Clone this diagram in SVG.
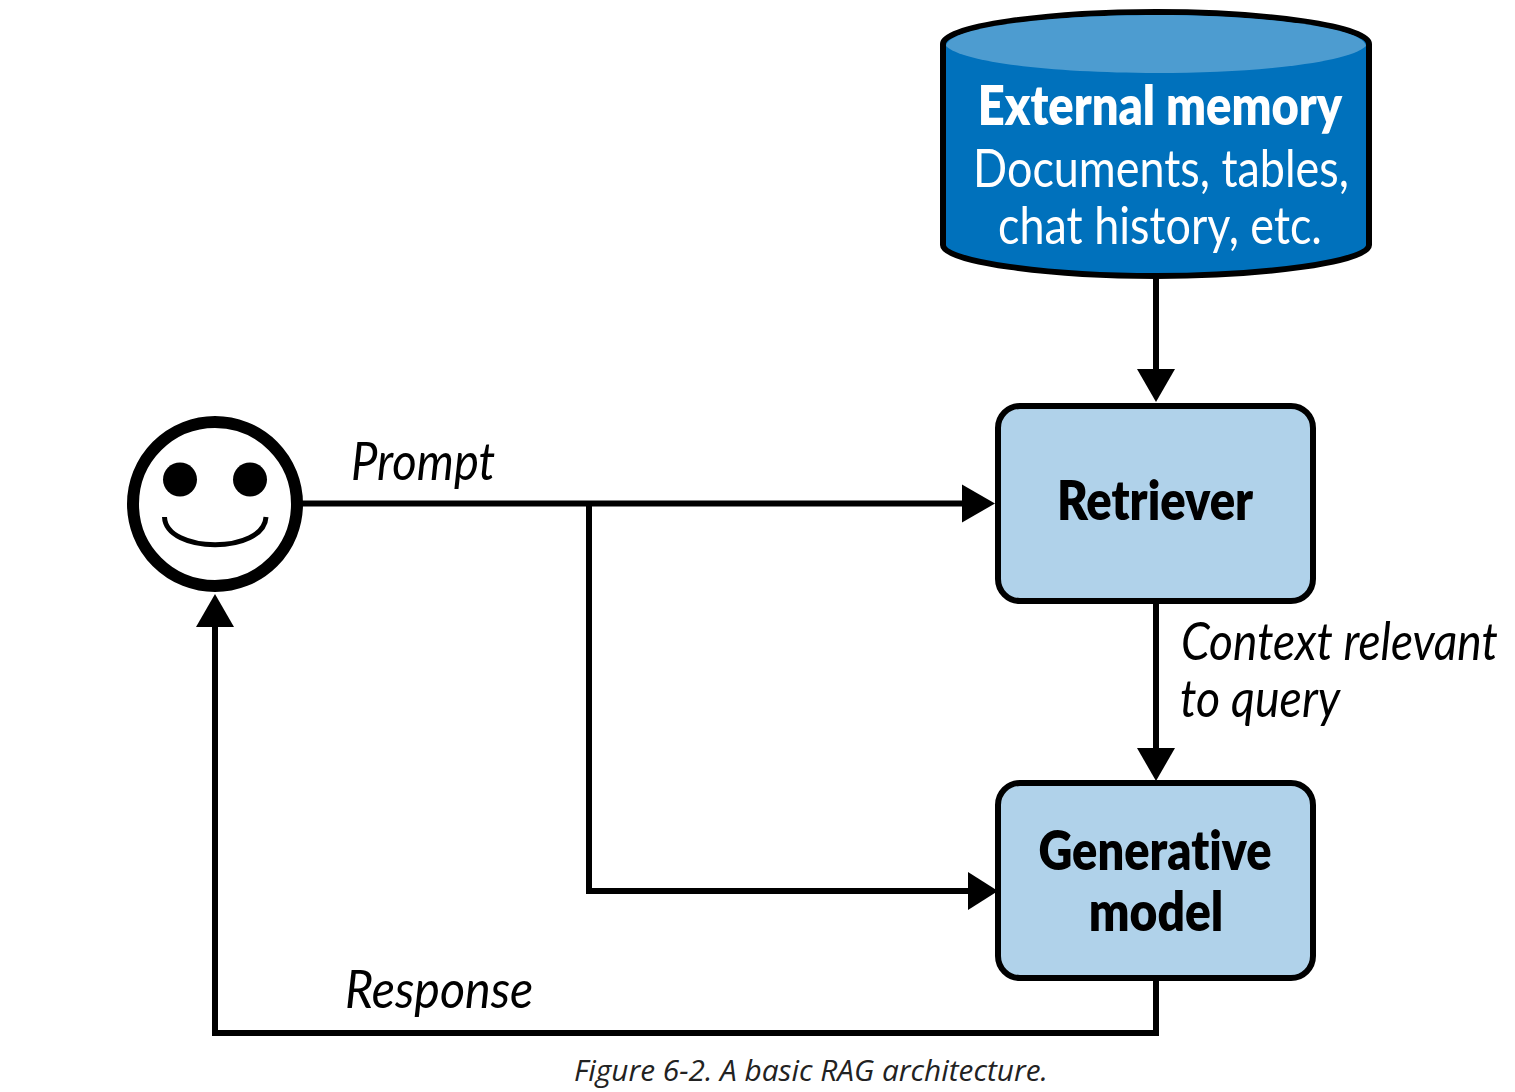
<svg xmlns="http://www.w3.org/2000/svg" width="1515" height="1092" viewBox="0 0 1515 1092">
<style>
.ln{fill:none;stroke:#000;stroke-width:6}
.box{fill:#b0d2ea;stroke:#000;stroke-width:6}
text{font-family:Lato,"Open Sans",sans-serif;text-anchor:middle;font-variant-ligatures:none}
.b{font-weight:800;font-size:54px}
.r{font-size:52px}
.i{font-style:italic;font-size:53px;text-anchor:start}
.w{fill:#fff}
.cap{font-family:"Open Sans","Noto Sans",sans-serif;font-size:29px;font-style:italic;fill:#222}
</style>
<defs>
<marker id="a" markerUnits="userSpaceOnUse" markerWidth="34" markerHeight="40" refX="21" refY="19" orient="auto" overflow="visible"><path d="M0 0L33 19L0 38Z" fill="#000"/></marker>
<marker id="c" markerUnits="userSpaceOnUse" markerWidth="30" markerHeight="40" refX="18" refY="19" orient="auto" overflow="visible"><path d="M0 0L30 19L0 38Z" fill="#000"/></marker>
</defs>
<rect width="1515" height="1092" fill="#fff"/>
<g id="connectors">
<path class="ln" d="M1156 276V390" marker-end="url(#a)"/>
<path class="ln" d="M300 503.500H983" marker-end="url(#a)"/>
<path class="ln" d="M589 503.500V891H986" marker-end="url(#c)"/>
<path class="ln" d="M1156 601V769" marker-end="url(#a)"/>
<path class="ln" d="M1156 978V1033H215V606" marker-end="url(#a)"/>
</g>
<g id="external-memory">
<path d="M943 44C943 26 1050 12 1156 12C1262 12 1369 26 1369 44V245C1369 262 1262 276 1156 276C1050 276 943 262 943 245Z" fill="#0071bc" stroke="#000" stroke-width="6"/>
<path d="M946 46C948 27 1050 15 1156 15C1262 15 1364 27 1366 46C1350 62 1262 73 1156 73C1050 73 962 62 946 46Z" fill="#4d9cd0"/>
<text class="b w" transform="translate(1160 125) scale(.88 1)" textLength="414" lengthAdjust="spacingAndGlyphs">External memory</text>
<text class="r w" transform="translate(1161 187) scale(.88 1)" textLength="427" lengthAdjust="spacingAndGlyphs">Documents, tables,</text>
<text class="r w" transform="translate(1160 244) scale(.88 1)" textLength="368" lengthAdjust="spacingAndGlyphs">chat history, etc.</text>
</g>
<g id="retriever">
<rect class="box" x="998" y="406" width="315" height="195" rx="22"/>
<text class="b" transform="translate(1155 520) scale(.88 1)" textLength="223" lengthAdjust="spacingAndGlyphs">Retriever</text>
</g>
<g id="generative-model">
<rect class="box" x="998" y="783" width="315" height="195" rx="22"/>
<text class="b" transform="translate(1155 870) scale(.88 1)" textLength="265" lengthAdjust="spacingAndGlyphs">Generative</text>
<text class="b" transform="translate(1156 931) scale(.88 1)" textLength="153" lengthAdjust="spacingAndGlyphs">model</text>
</g>
<g id="user">
<circle cx="215" cy="504" r="82" fill="#fff" stroke="#000" stroke-width="12"/>
<circle cx="180" cy="479.500" r="17"/>
<circle cx="250" cy="479.500" r="17"/>
<path d="M164.500 517C166 554 264 554 266 517" fill="none" stroke="#000" stroke-width="5"/>
</g>
<g id="labels">
<text class="i" transform="translate(351 480) scale(.88 1)" textLength="164" lengthAdjust="spacingAndGlyphs">Prompt</text>
<text class="i" transform="translate(1181 660) scale(.88 1)" textLength="360" lengthAdjust="spacingAndGlyphs">Context relevant</text>
<text class="i" transform="translate(1180 717) scale(.88 1)" textLength="182" lengthAdjust="spacingAndGlyphs">to query</text>
<text class="i" transform="translate(345 1008) scale(.88 1)" textLength="214" lengthAdjust="spacingAndGlyphs">Response</text>
<text class="cap" x="811" y="1081" textLength="474" lengthAdjust="spacingAndGlyphs">Figure 6-2. A basic RAG architecture.</text>
</g>
</svg>
